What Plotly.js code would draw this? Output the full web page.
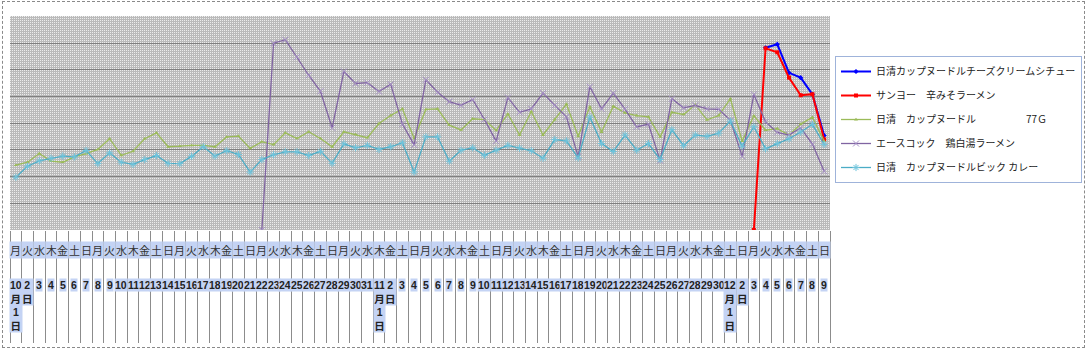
<!DOCTYPE html>
<html><head><meta charset="utf-8">
<script src="https://cdn.plot.ly/plotly-3.0.1.min.js"></script>
<style>
html,body{margin:0;padding:0;background:#fff;overflow:hidden}
#wrap{position:relative;width:1087px;height:351px}
#chart{width:1087px;height:351px}
#frame{position:absolute;left:2px;top:1px;width:1081px;height:345px;border:1px dashed #8a8a8a;pointer-events:none}
</style></head><body>
<div id="wrap"><div id="chart"></div><div id="frame"></div></div>
<script>
// ---- category labels ----
const weekdays = [
 "月","火","水","木","金","土","日","月","火","水","木","金","土","日",
 "月","火","水","木","金","土","日","月","火","水","木","金","土","日",
 "月","火","水","木","金","土","日","月","火","水","木","金","土","日",
 "月","火","水","木","金","土","日","月","火","水","木","金","土","日",
 "月","火","水","木","金","土","日","月","火","水","木","金","土","日"];
const dateLabels = [
 "10月1日","2日","3","4","5","6","7","8","9","10","11","12","13","14","15","16","17","18","19","20",
 "21","22","23","24","25","26","27","28","29","30","31",
 "11月1日","2日","3","4","5","6","7","8","9","10","11","12","13","14","15","16","17","18","19","20",
 "21","22","23","24","25","26","27","28","29","30",
 "12月1日","2日","3","4","5","6","7","8","9"];

// ---- series ----
const seriesNames = [
 "日清カップヌードルチーズクリームシチュー",
 "サンヨー　辛みそラーメン",
 "日清　カップヌードル　　　　　77Ｇ",
 "エースコック　鶏白湯ラーメン",
 "日清　カップヌードルビック カレー"];
const cheeseStew = [
 null,null,null,null,null,null,null,null,null,null,
 null,null,null,null,null,null,null,null,null,null,
 null,null,null,null,null,null,null,null,null,null,
 null,null,null,null,null,null,null,null,null,null,
 null,null,null,null,null,null,null,null,null,null,
 null,null,null,null,null,null,null,null,null,null,
 null,null,null,null,6.83,6.96,5.89,5.71,5.08,3.54];
const karamiso = [
 null,null,null,null,null,null,null,null,null,null,
 null,null,null,null,null,null,null,null,null,null,
 null,null,null,null,null,null,null,null,null,null,
 null,null,null,null,null,null,null,null,null,null,
 null,null,null,null,null,null,null,null,null,null,
 null,null,null,null,null,null,null,null,null,null,
 null,null,null,0,6.81,6.66,5.71,5.05,5.09,3.39];
const cupNoodle77 = [
 2.43,2.54,2.87,2.58,2.54,2.74,2.86,3.02,3.42,2.80,
 2.95,3.42,3.64,3.12,3.14,3.17,3.17,3.12,3.49,3.52,
 3.06,3.31,3.20,3.64,3.43,3.68,3.43,3.12,3.68,3.58,
 3.46,3.99,4.29,4.54,3.43,4.52,4.54,3.93,3.75,4.17,
 4.14,3.73,4.35,3.56,4.44,3.56,4.14,4.72,3.51,4.62,
 3.67,4.64,4.39,4.29,4.24,3.49,4.41,4.33,4.69,4.13,
 4.29,4.92,3.33,4.28,3.74,3.80,3.56,3.97,4.23,3.33];
const paitan = [
 null,null,null,null,null,null,null,null,null,null,
 null,null,null,null,null,null,null,null,null,null,
 null,0,7.00,7.13,6.48,5.80,5.20,3.83,5.94,5.49,
 5.52,5.19,5.46,3.97,3.19,5.63,5.16,4.81,4.67,4.89,
 4.14,3.33,4.96,4.41,4.54,5.13,4.67,4.24,2.75,5.37,
 4.54,5.13,4.53,3.86,3.97,2.60,4.92,4.58,4.67,4.54,
 4.52,4.11,2.76,5.08,4.05,3.66,3.56,3.83,3.22,2.20];
const bigCurry = [
 1.98,2.39,2.59,2.69,2.77,2.74,2.98,2.49,2.89,2.54,
 2.46,2.64,2.79,2.50,2.49,2.76,3.12,2.77,2.97,2.83,
 2.17,2.64,2.82,2.93,2.93,2.79,2.95,2.50,3.23,3.08,
 3.17,3.02,3.12,3.27,2.17,3.49,3.49,2.58,2.99,3.08,
 2.80,2.99,3.17,3.07,2.97,2.69,3.39,3.34,2.70,4.23,
 3.24,2.94,3.56,2.99,3.24,2.64,3.76,3.16,3.56,3.51,
 3.63,4.08,3.14,3.87,3.04,3.24,3.42,3.67,3.96,3.21];

const idx = weekdays.map((_, i) => i);
const W = 1087, H = 351, ML = 10, MR = 257, MT = 16, MB = 121;
const PW = W - ML - MR, PH = H - MT - MB;

function stipple(w, h) {
  const c = document.createElement('canvas'); c.width = w; c.height = h;
  const ctx = c.getContext('2d'); const img = ctx.createImageData(w, h);
  for (let y = 0; y < h; y++) for (let x = 0; x < w; x++) {
    const k = (y * w + x) * 4; const v = (x % 2 === 0 && y % 2 === 0) ? 236 : 186;
    img.data[k] = img.data[k + 1] = img.data[k + 2] = v; img.data[k + 3] = 255;
  }
  ctx.putImageData(img, 0, 0); return c.toDataURL();
}

const styles = [
  {color: '#0000ff', width: 2, marker: {symbol: 'diamond', size: 4, color: '#0000ff'}},
  {color: '#ff0000', width: 2, marker: {symbol: 'square', size: 4, color: '#ff0000'}},
  {color: '#9bbb59', width: 1.3, marker: {symbol: 'triangle-up', size: 3.5, color: '#9bbb59'}},
  {color: '#8064a2', width: 1.3, marker: {symbol: 'x-thin-open', size: 6, color: '#a58fc6', line: {width: 1, color: '#a58fc6'}}},
  {color: '#4bacc6', width: 1.3, marker: {symbol: 'asterisk-open', size: 6, color: '#6fc4dc', line: {width: 1, color: '#6fc4dc'}}}
];
const data = [cheeseStew, karamiso, cupNoodle77, paitan, bigCurry].map((ys, k) => ({
  type: 'scatter', mode: 'lines+markers', x: idx, y: ys, name: seriesNames[k],
  legendgroup: 'g' + k, connectgaps: false,
  line: {color: styles[k].color, width: styles[k].width}, marker: styles[k].marker
}));

function pyPaper(px) { return (MT + PH - px) / PH; }
const annotations = [];
weekdays.forEach((w, i) => {
  annotations.push({x: i, xref: 'x', y: pyPaper(250), yref: 'paper', text: w, showarrow: false,
    yanchor: 'middle', xanchor: 'center', bgcolor: '#c4d3f4', borderpad: 0,
    font: {family: 'Noto Sans CJK JP', size: 11, color: '#333'}});
});
dateLabels.forEach((d, i) => {
  annotations.push({x: i, xref: 'x', y: pyPaper(278), yref: 'paper', text: d.match(/\d+|\D/g).join('<br>'),
    showarrow: false, yanchor: 'top', xanchor: 'center', bgcolor: '#c4d3f4', borderpad: 0,
    font: {family: 'Liberation Sans, Noto Sans CJK JP', size: 10.5, color: '#222', weight: 'bold'}});
});

const layout = {
  width: W, height: H, margin: {l: ML, r: MR, t: MT, b: MB, pad: 0},
  paper_bgcolor: '#ffffff', plot_bgcolor: '#c4c4c4', showlegend: true,
  xaxis: {range: [-0.5, weekdays.length - 0.5], tickvals: weekdays.map((_, i) => i - 0.5).concat([weekdays.length - 0.5]),
    showticklabels: false, ticks: 'outside', ticklen: 112, tickcolor: '#8c8c8c', tickwidth: 1,
    showgrid: false, zeroline: false, showline: false, fixedrange: true},
  yaxis: {range: [0, 8.02], tickvals: [1, 2, 3, 4, 5, 6, 7], showticklabels: false, ticks: '',
    showgrid: true, gridcolor: '#7f7f7f', gridwidth: 1, zeroline: false, showline: false, fixedrange: true},
  legend: {xref: 'container', yref: 'container', x: 835 / W, y: 1 - 56 / H, xanchor: 'left', yanchor: 'top',
    bgcolor: '#ffffff', bordercolor: '#9fb3da', borderwidth: 1, tracegroupgap: 5, itemwidth: 30,
    font: {family: 'Noto Sans CJK JP', size: 10, color: '#222'}},
  images: [{source: stipple(PW, PH), xref: 'paper', yref: 'paper', x: 0, y: 1, sizex: 1, sizey: 1,
    xanchor: 'left', yanchor: 'top', sizing: 'stretch', layer: 'below'}],
  annotations: annotations
};
Plotly.newPlot('chart', data, layout, {displayModeBar: false, staticPlot: true});
</script>
</body></html>
